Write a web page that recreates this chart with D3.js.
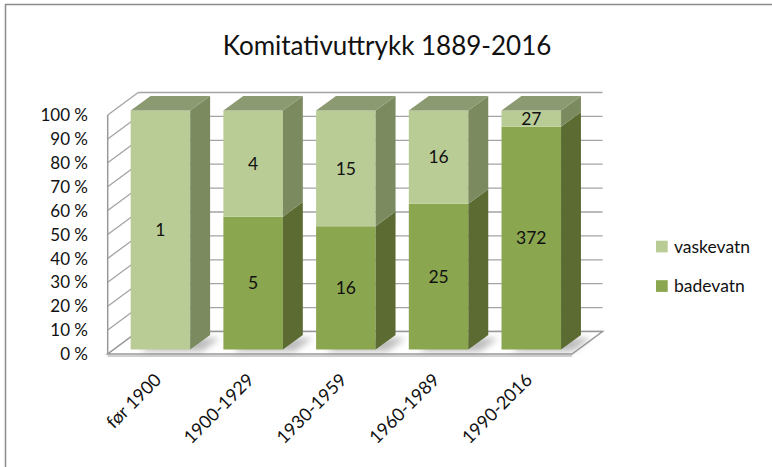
<!DOCTYPE html>
<html><head><meta charset="utf-8">
<script src="https://cdn.jsdelivr.net/npm/d3@7"></script>
<style>
html,body{margin:0;padding:0;background:#fff;}
svg{display:block;font-family:Lato,"Liberation Sans",sans-serif;}
</style></head>
<body>
<svg id="c" width="772" height="467"></svg>
<script>
const categories = ["før 1900","1900-1929","1930-1959","1960-1989","1990-2016"];
const badevatn  = [0, 5, 16, 25, 372];
const vaskevatn = [1, 4, 15, 16, 27];
const seriesNames = ["badevatn","vaskevatn"];
const yTickValues = [0,0.1,0.2,0.3,0.4,0.5,0.6,0.7,0.8,0.9,1];
const title = "Komitativuttrykk 1889-2016";

const colors = {
  badevatn:  {front:"#8AA64F", side:"#5B6B32", top:"#6F7F45"},
  vaskevatn: {front:"#B9CC96", side:"#7B8A5F", top:"#8C9A71"}
};

const svg = d3.select("#c");
// outer border
svg.append("rect").attr("x",5.5).attr("y",4.5).attr("width",820).attr("height",520)
  .attr("fill","none").attr("stroke","#8c8c8c").attr("stroke-width",1.5);

svg.append("text").attr("x",387).attr("y",55).attr("text-anchor","middle")
  .attr("font-size",26).attr("fill","#111").text(title);

const X0 = 107.7, X1 = 572, DX = 30.5, DY = -22.5;
const y = d3.scaleLinear().domain([0,1]).range([354,115]);
const x = d3.scaleBand().domain(categories).range([X0,X1]).paddingInner(0.358).paddingOuter(0.183);
const P = (px, v, z) => [px + DX*z, y(v) + DY*z];
const poly = pts => "M" + pts.map(p=>p.join(",")).join("L") + "Z";

const data = categories.map((c,i)=>({cat:c, badevatn:badevatn[i], vaskevatn:vaskevatn[i]}));
const stack = d3.stack().keys(seriesNames).offset(d3.stackOffsetExpand);
const series = stack(data);

const defs = svg.append("defs");
defs.append("filter").attr("id","blur").attr("x","-50%").attr("y","-50%").attr("width","200%").attr("height","200%")
  .append("feGaussianBlur").attr("stdDeviation",3);

// walls
const g = svg.append("g");
g.append("path").attr("d", poly([P(X0,0,1),P(X0,1,1),P(X1,1,1),P(X1,0,1)])).attr("fill","#fff");
g.append("path").attr("d", poly([P(X0,0,0),P(X0,1,0),P(X0,1,1),P(X0,0,1)])).attr("fill","#fff");
// gridlines
yTickValues.forEach(v=>{
  g.append("line").attr("x1",P(X0,v,1)[0]).attr("y1",P(X0,v,1)[1]).attr("x2",P(X1,v,1)[0]).attr("y2",P(X1,v,1)[1])
    .attr("stroke","#a3a3a3").attr("stroke-width",1.3);
  g.append("line").attr("x1",P(X0,v,0)[0]).attr("y1",P(X0,v,0)[1]).attr("x2",P(X0,v,1)[0]).attr("y2",P(X0,v,1)[1])
    .attr("stroke","#a3a3a3").attr("stroke-width",1.3);
});
g.append("line").attr("x1",X0).attr("y1",y(0)).attr("x2",X0).attr("y2",y(1)).attr("stroke","#999").attr("stroke-width",1.5);
// floor
g.append("path").attr("d", poly([P(X0,0,0),P(X1,0,0),P(X1,0,1),P(X0,0,1)])).attr("fill","#fff").attr("stroke","#999").attr("stroke-width",1.5);
g.append("line").attr("x1",X0).attr("y1",y(0)+2).attr("x2",X1).attr("y2",y(0)+2).attr("stroke","#d0d0d0").attr("stroke-width",2);

const zf = 0.197, zb = 0.85;
const bw = x.bandwidth();

// shadows on floor
categories.forEach(c=>{
  const bx = x(c);
  g.append("path").attr("d", poly([P(bx+4,0,zf+0.05),P(bx+bw+6,0,zf+0.05),P(bx+bw+6,0,zb),P(bx+4,0,zb)]))
    .attr("transform","translate(4,3)")
    .attr("fill","#888").attr("opacity",0.55).attr("filter","url(#blur)");
});

// bars
const bars = svg.append("g");
categories.forEach((c,i)=>{
  const bx = x(c);
  series.forEach(s=>{
    const d = s[i];
    const v0 = d[0], v1 = d[1];
    if (v1 - v0 <= 0) return;
    const col = colors[s.key];
    bars.append("path").attr("d", poly([P(bx,v0,zf),P(bx,v1,zf),P(bx+bw,v1,zf),P(bx+bw,v0,zf)])).attr("fill",col.front);
    bars.append("path").attr("d", poly([P(bx+bw,v0,zf),P(bx+bw,v1,zf),P(bx+bw,v1,zb),P(bx+bw,v0,zb)])).attr("fill",col.side);
    if (v1 >= 0.9999) {
      bars.append("path").attr("d", poly([P(bx,1,zf),P(bx+bw,1,zf),P(bx+bw,1,zb),P(bx,1,zb)])).attr("fill",col.top);
    }
    const val = s.key === "badevatn" ? badevatn[i] : vaskevatn[i];
    const c0 = P(bx+bw/2, (v0+v1)/2, zf);
    bars.append("text").attr("x",c0[0]).attr("y",c0[1]).attr("dy","0.35em").attr("text-anchor","middle")
      .attr("font-size",17.5).attr("fill","#111").text(val);
  });
});

// y axis labels
const fmt = v => Math.round(v*100) + " %";
yTickValues.forEach(v=>{
  svg.append("text").attr("x",88).attr("y",y(v)).attr("dy","0.36em").attr("text-anchor","end")
    .attr("font-size",17).attr("fill","#111").text(fmt(v));
});

// x axis labels
categories.forEach(c=>{
  const cx = x(c) + bw/2 + 8;
  svg.append("text").attr("transform",`translate(${cx},381) rotate(-45)`).attr("text-anchor","end")
    .attr("font-size",18).attr("fill","#111").text(c);
});

// legend
const legendItems = ["vaskevatn","badevatn"];
const legendY = [246.5, 286];
legendItems.forEach((k,j)=>{
  svg.append("rect").attr("x",656).attr("y",legendY[j]-5.8).attr("width",11.7).attr("height",11.7).attr("fill",colors[k].front);
  svg.append("text").attr("x",674).attr("y",legendY[j]).attr("dy","0.36em").attr("font-size",17.5).attr("fill","#111").text(k);
});
</script>
</body></html>
